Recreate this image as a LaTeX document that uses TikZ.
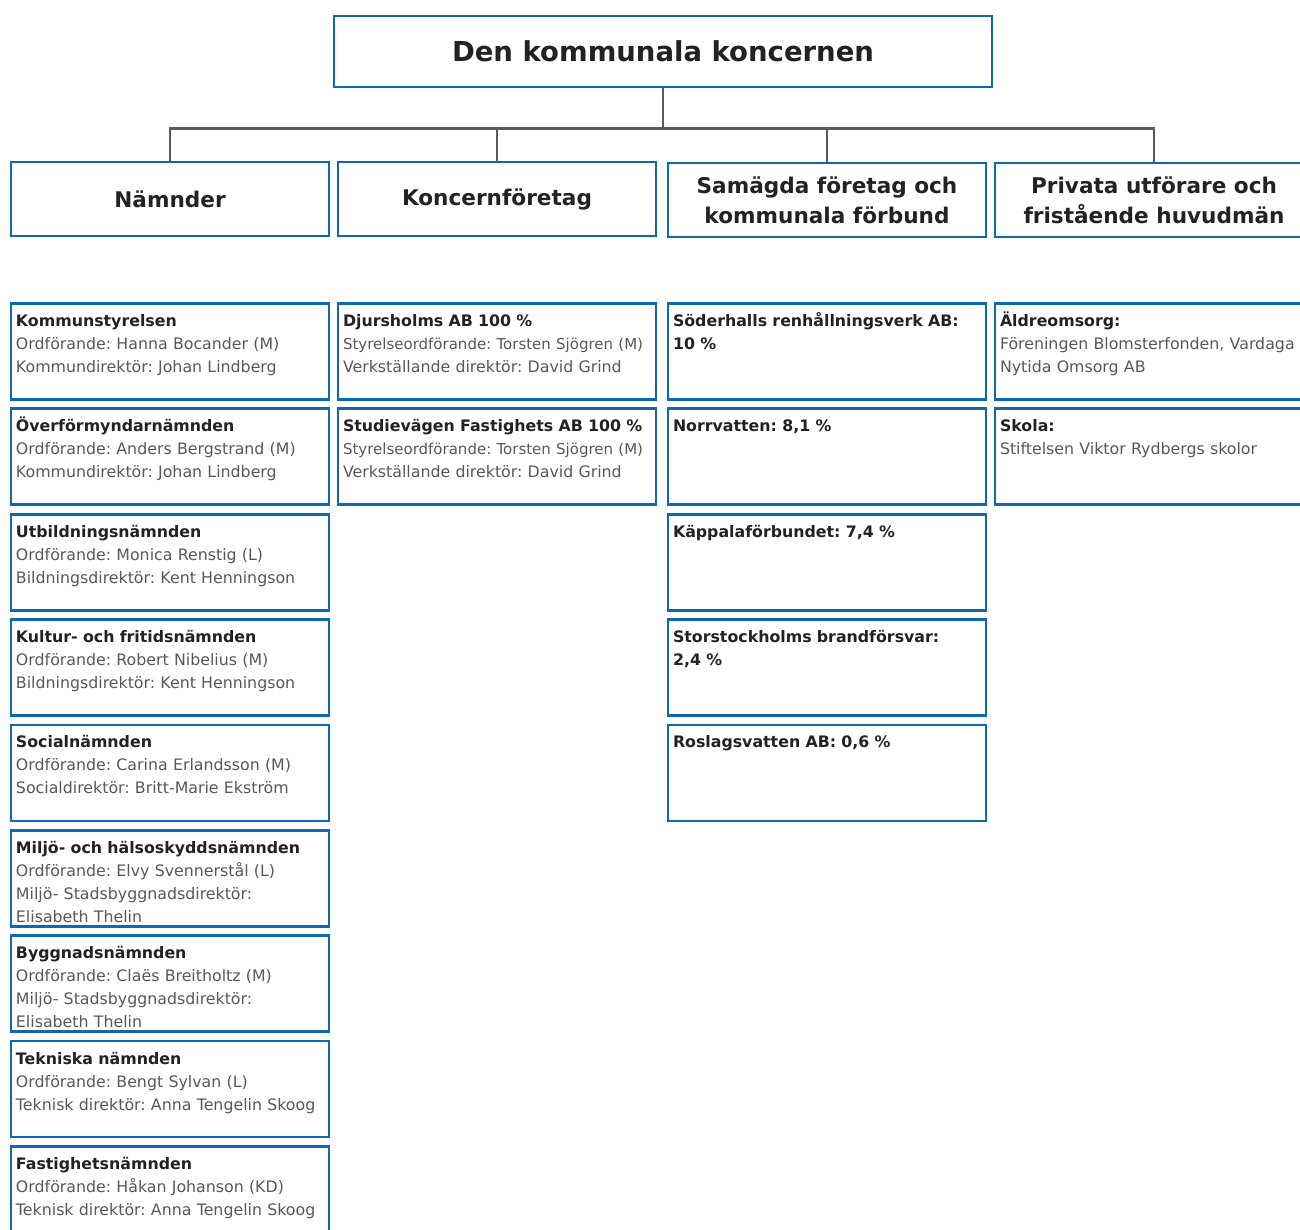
\documentclass[tikz,border=0pt]{standalone}
\usepackage{fontspec}
\setmainfont{DejaVu Sans}
\usepackage{xcolor}
\usepackage{tikz}
\usetikzlibrary{positioning}

\definecolor{boxblue}{RGB}{14,104,178}
\definecolor{linegrey}{RGB}{90,90,90}
\definecolor{headblack}{RGB}{34,34,34}
\definecolor{rolegrey}{RGB}{88,88,88}

\tikzset{
  topbox/.style={draw=boxblue, line width=2.8pt, minimum width=658pt, minimum height=71pt,
    font=\fontsize{27.5}{33}\selectfont\bfseries, text=headblack},
  groupbox/.style={draw=boxblue, line width=2.8pt, minimum width=318pt, minimum height=74pt,
    align=center, font=\fontsize{21.6}{30}\selectfont\bfseries, text=headblack},
  unitbox/.style={draw=boxblue, line width=2.8pt, anchor=north, text width=308pt,
    inner xsep=5pt, inner ysep=0pt, text height=23pt, text depth=73pt, align=left,
    font=\fontsize{15.8}{23}\selectfont\frenchspacing, text=rolegrey},
  conn/.style={draw=linegrey, line width=2.8pt},
}
\newcommand{\unitname}[1]{\textbf{\textcolor{headblack}{#1}}}
\newcommand{\longline}[1]{\mbox{\fontsize{15}{23}\selectfont #1}}

\begin{document}
\begin{tikzpicture}[x=1pt, y=-1pt]
  \useasboundingbox (0,0) rectangle (1300,1230);
  \clip (0,0) rectangle (1300,1230);
  % column centres
  \def\xNam{170}\def\xKon{497}\def\xSam{827}\def\xPri{1154}

  % top
  \node[topbox] (koncern) at (663,51.5) {Den kommunala koncernen};

  % groups
  \node[groupbox] (namnder) at (\xNam,199) {Nämnder};
  \node[groupbox] (foretag) at (\xKon,199) {Koncernföretag};
  \node[groupbox] (samagda) at (\xSam,200) {Samägda företag och\\kommunala förbund};
  \node[groupbox] (privata) at (\xPri,200) {Privata utförare och\\fristående huvudmän};

  % tree lines
  \coordinate[below=40pt of koncern.south] (fork);
  \draw[conn] (koncern.south) -- (fork) -| (namnder.north);
  \draw[conn] (fork) -| (foretag.north);
  \draw[conn] (fork) -| (samagda.north);
  \draw[conn] (fork) -| (privata.north);

  % namnder
  \node[unitbox] (ks) at (\xNam,302) {\unitname{Kommunstyrelsen}\\Ordförande: Hanna Bocander (M)\\Kommundirektör: Johan Lindberg};
  \node[unitbox] (ofn) at (\xNam,407.4) {\unitname{Överförmyndarnämnden}\\Ordförande: Anders Bergstrand (M)\\Kommundirektör: Johan Lindberg};
  \node[unitbox] (utn) at (\xNam,512.8) {\unitname{Utbildningsnämnden}\\Ordförande: Monica Renstig (L)\\Bildningsdirektör: Kent Henningson};
  \node[unitbox] (kfn) at (\xNam,618.1) {\unitname{Kultur- och fritidsnämnden}\\Ordförande: Robert Nibelius (M)\\Bildningsdirektör: Kent Henningson};
  \node[unitbox] (sn) at (\xNam,723.5) {\unitname{Socialnämnden}\\Ordförande: Carina Erlandsson (M)\\Socialdirektör: Britt-Marie Ekström};
  \node[unitbox] (mhn) at (\xNam,828.9) {\unitname{Miljö- och hälsoskyddsnämnden}\\Ordförande: Elvy Svennerstål (L)\\Miljö- Stadsbyggnadsdirektör:\\Elisabeth Thelin};
  \node[unitbox] (bn) at (\xNam,934.3) {\unitname{Byggnadsnämnden}\\Ordförande: Claës Breitholtz (M)\\Miljö- Stadsbyggnadsdirektör:\\Elisabeth Thelin};
  \node[unitbox] (tn) at (\xNam,1039.6) {\unitname{Tekniska nämnden}\\Ordförande: Bengt Sylvan (L)\\Teknisk direktör: Anna Tengelin Skoog};
  \node[unitbox] (fn) at (\xNam,1145) {\unitname{Fastighetsnämnden}\\Ordförande: Håkan Johanson (KD)\\Teknisk direktör: Anna Tengelin Skoog};

  % koncernforetag
  \node[unitbox] (djab) at (\xKon,302) {\unitname{Djursholms AB 100 \%}\\\longline{Styrelseordförande: Torsten Sjögren (M)}\\Verkställande direktör: David Grind};
  \node[unitbox] (stab) at (\xKon,407.4) {\unitname{Studievägen Fastighets AB 100 \%}\\\longline{Styrelseordförande: Torsten Sjögren (M)}\\Verkställande direktör: David Grind};

  % samagda
  \node[unitbox] (shr) at (\xSam,302) {\unitname{Söderhalls renhållningsverk AB:}\\\unitname{10 \%}};
  \node[unitbox] (norr) at (\xSam,407.4) {\unitname{Norrvatten: 8,1 \%}};
  \node[unitbox] (kapp) at (\xSam,512.8) {\unitname{Käppalaförbundet: 7,4 \%}};
  \node[unitbox] (ssbf) at (\xSam,618.1) {\unitname{Storstockholms brandförsvar:}\\\unitname{2,4 \%}};
  \node[unitbox] (rosl) at (\xSam,723.5) {\unitname{Roslagsvatten AB: 0,6 \%}};

  % privata
  \node[unitbox] (aldre) at (\xPri,302) {\unitname{Äldreomsorg:}\\Föreningen Blomsterfonden, Vardaga\\Nytida Omsorg AB};
  \node[unitbox] (skola) at (\xPri,407.4) {\unitname{Skola:}\\Stiftelsen Viktor Rydbergs skolor};
\end{tikzpicture}
\end{document}
